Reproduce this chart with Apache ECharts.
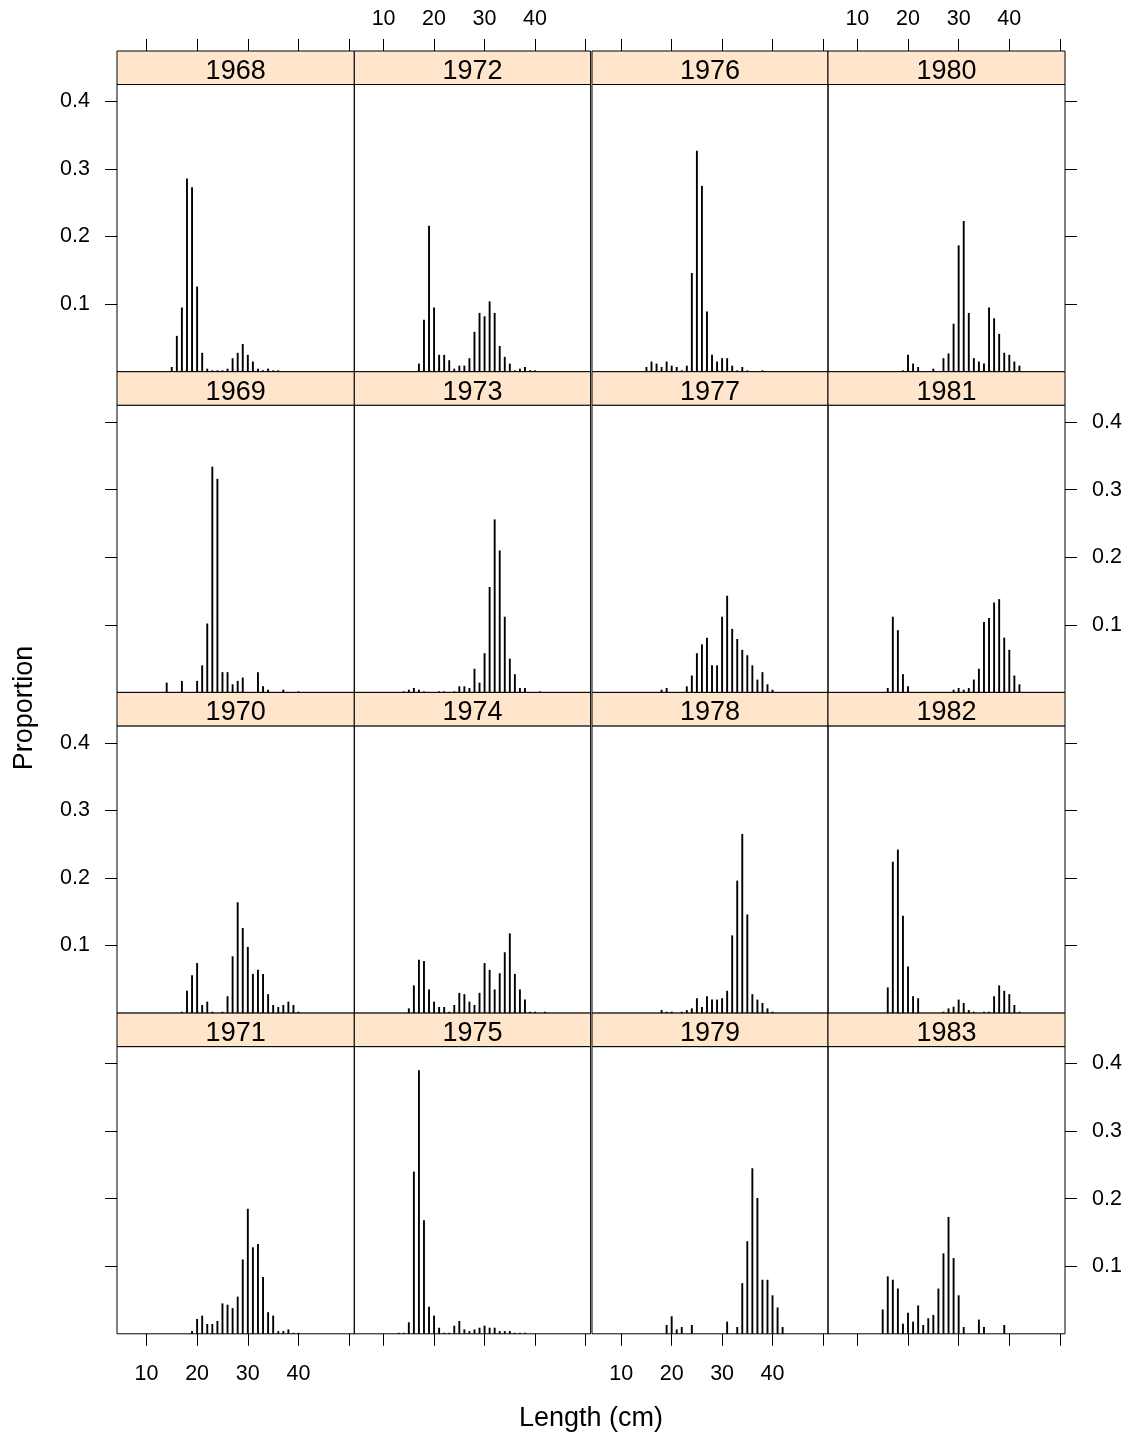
<!DOCTYPE html>
<html><head><meta charset="utf-8">
<script src="https://cdn.jsdelivr.net/npm/echarts@6/dist/echarts.min.js"></script>
<style>html,body{margin:0;padding:0;background:#fff}#c{width:1131px;height:1440px}</style>
</head><body><div id="c"></div>
<script>
// ---- data: [length (cm), proportion] per year ----
const years = [1968,1969,1970,1971,1972,1973,1974,1975,1976,1977,1978,1979,1980,1981,1982,1983];
const p1968 = [[15,.007],[16,.053],[17,.095],[18,.286],[19,.273],[20,.126],[21,.028],[22,.0045],[23,.002],[24,.002],[25,.002],[26,.0045],[27,.020],[28,.028],[29,.041],[30,.025],[31,.015],[32,.0045],[33,.002],[34,.0045],[35,.002],[36,.002]];
const p1969 = [[14,.0145],[17,.017],[20,.017],[21,.040],[22,.102],[23,.334],[24,.316],[25,.030],[26,.030],[27,.012],[28,.017],[29,.022],[32,.030],[33,.009],[34,.004],[37,.004],[40,.0015]];
const p1970 = [[17,.002],[18,.033],[19,.056],[20,.074],[21,.012],[22,.017],[23,.002],[25,.002],[26,.025],[27,.084],[28,.164],[29,.126],[30,.098],[31,.058],[32,.064],[33,.058],[34,.028],[35,.012],[36,.009],[37,.012],[38,.017],[39,.012],[40,.002]];
const p1971 = [[19,.004],[20,.022],[21,.027],[22,.0145],[23,.0145],[24,.019],[25,.045],[26,.043],[27,.038],[28,.055],[29,.110],[30,.185],[31,.128],[32,.133],[33,.084],[34,.032],[35,.027],[36,.004],[37,.004],[38,.0065],[39,.0015],[40,.0015]];
const p1972 = [[17,.012],[18,.077],[19,.216],[20,.095],[21,.025],[22,.025],[23,.017],[24,.0045],[25,.009],[26,.009],[27,.020],[28,.059],[29,.087],[30,.082],[31,.104],[32,.087],[33,.038],[34,.022],[35,.012],[36,.002],[37,.0045],[38,.007],[39,.002],[40,.002]];
const p1973 = [[14,.0015],[15,.004],[16,.0065],[17,.004],[18,.0015],[21,.0015],[22,.0015],[24,.0015],[25,.009],[26,.009],[27,.0065],[28,.035],[29,.0145],[30,.058],[31,.156],[32,.256],[33,.210],[34,.112],[35,.050],[36,.027],[37,.0065],[38,.0065],[41,.0015]];
const p1974 = [[15,.007],[16,.041],[17,.079],[18,.077],[19,.035],[20,.017],[21,.009],[22,.009],[23,.002],[24,.012],[25,.030],[26,.028],[27,.017],[28,.012],[29,.030],[30,.074],[31,.064],[32,.035],[33,.059],[34,.090],[35,.118],[36,.058],[37,.035],[38,.020],[39,.002],[40,.002],[42,.002]];
const p1975 = [[13,.0015],[14,.0015],[15,.017],[16,.240],[17,.390],[18,.168],[19,.040],[20,.027],[21,.009],[22,.0015],[23,.0015],[24,.012],[25,.019],[26,.0065],[27,.004],[28,.0065],[29,.009],[30,.012],[31,.009],[32,.009],[33,.004],[34,.004],[35,.004],[36,.0015],[37,.0015],[38,.0015]];
const p1976 = [[15,.007],[16,.015],[17,.012],[18,.007],[19,.015],[20,.009],[21,.007],[22,.002],[23,.009],[24,.146],[25,.327],[26,.275],[27,.089],[28,.025],[29,.015],[30,.020],[31,.020],[32,.009],[33,.002],[34,.007],[35,.002],[38,.002]];
const p1977 = [[18,.004],[19,.0065],[23,.009],[24,.025],[25,.058],[26,.071],[27,.081],[28,.040],[29,.040],[30,.112],[31,.143],[32,.094],[33,.079],[34,.063],[35,.055],[36,.040],[37,.019],[38,.030],[39,.012],[40,.004]];
const p1978 = [[18,.0045],[19,.002],[20,.002],[22,.002],[23,.0045],[24,.007],[25,.022],[26,.009],[27,.025],[28,.020],[29,.020],[30,.022],[31,.033],[32,.115],[33,.196],[34,.265],[35,.146],[36,.028],[37,.020],[38,.015],[39,.007],[40,.002]];
const p1979 = [[19,.013],[20,.026],[21,.0065],[22,.010],[24,.013],[31,.018],[33,.010],[34,.075],[35,.137],[36,.245],[37,.201],[38,.080],[39,.080],[40,.057],[41,.039],[42,.010]];
const p1980 = [[19,.002],[20,.025],[21,.012],[22,.007],[25,.0045],[27,.020],[28,.027],[29,.071],[30,.187],[31,.223],[32,.087],[33,.020],[34,.015],[35,.012],[36,.095],[37,.079],[38,.056],[39,.028],[40,.025],[41,.015],[42,.009]];
const p1981 = [[16,.0065],[17,.112],[18,.092],[19,.027],[20,.009],[29,.004],[30,.0065],[31,.004],[32,.0065],[33,.019],[34,.035],[35,.104],[36,.110],[37,.133],[38,.138],[39,.081],[40,.063],[41,.025],[42,.012]];
const p1982 = [[16,.038],[17,.224],[18,.242],[19,.144],[20,.069],[21,.025],[22,.022],[27,.002],[28,.007],[29,.0095],[30,.020],[31,.015],[32,.0045],[33,.002],[35,.002],[36,.002],[37,.025],[38,.041],[39,.033],[40,.028],[41,.012],[42,.002]];
const p1983 = [[15,.036],[16,.085],[17,.080],[18,.067],[19,.015],[20,.031],[21,.018],[22,.042],[23,.013],[24,.023],[25,.028],[26,.067],[27,.119],[28,.173],[29,.112],[30,.057],[31,.010],[34,.021],[35,.010],[39,.013]];
const panelData = [p1968,p1969,p1970,p1971,p1972,p1973,p1974,p1975,p1976,p1977,p1978,p1979,p1980,p1981,p1982,p1983];

const xTicks = [10,20,30,40,50];
const xTickLabels = [10,20,30,40];
const yTicks = [0.1,0.2,0.3,0.4];

// ---- layout ----
const FONT = '"Liberation Sans", Arial, Helvetica, sans-serif';
const colLeft = [117, 354.3, 592, 828];
const colW = [237.3, 236.3, 236, 237];
const rowTop0 = 51, rowPitch = 320.7, stripH = 33.5, panelH = 287.2;
const xMin = 4.2, xMax = 51.0, yMin = 0, yMax = 0.425;
const TICK_FS = 21.5;

const grids = [], xAxes = [], yAxes = [], series = [], graphics = [];
for (let c = 0; c < 4; c++) {
  for (let r = 0; r < 4; r++) {
    const i = c * 4 + r;
    const stripTop = rowTop0 + r * rowPitch;
    const top = stripTop + stripH;
    grids.push({left: colLeft[c], top: top, width: colW[c], height: panelH,
      show: true, borderColor: '#000', borderWidth: 1, backgroundColor: 'transparent',
      containLabel: false, outerBoundsMode: 'none'});
    const bottomRow = r === 3;
    xAxes.push({type: 'value', gridIndex: i, min: xMin, max: xMax, position: 'bottom',
      axisLine: {show: false}, splitLine: {show: false},
      axisTick: {show: bottomRow, length: 12, customValues: xTicks, lineStyle: {color: '#000', width: 1}},
      axisLabel: {show: bottomRow && (c === 0 || c === 2), customValues: xTickLabels, margin: 29,
        fontSize: TICK_FS, color: '#000', fontFamily: FONT}});
    const yTickShow = c === 0 || c === 3;
    const yLabShow = (c === 0 && r % 2 === 0) || (c === 3 && r % 2 === 1);
    yAxes.push({type: 'value', gridIndex: i, min: yMin, max: yMax, position: c === 3 ? 'right' : 'left',
      axisLine: {show: false}, splitLine: {show: false},
      axisTick: {show: yTickShow, length: 12, customValues: yTicks, lineStyle: {color: '#000', width: 1}},
      axisLabel: {show: yLabShow, customValues: yTicks, margin: 27, fontSize: TICK_FS, color: '#000', fontFamily: FONT,
        formatter: v => v.toFixed(1)}});
    series.push({type: 'bar', xAxisIndex: i, yAxisIndex: i, data: panelData[i], barWidth: 1.9,
      itemStyle: {color: '#000'}, silent: true, animation: false});
    graphics.push({type: 'rect', shape: {x: colLeft[c], y: stripTop, width: colW[c], height: stripH},
      style: {fill: '#FFE5CC', stroke: '#000', lineWidth: 1}, silent: true});
    graphics.push({type: 'text', x: colLeft[c] + colW[c] / 2, y: stripTop + 20.5,
      style: {text: String(years[i]), font: '27px ' + FONT, fill: '#000', align: 'center', verticalAlign: 'middle'}, silent: true});
  }
}
// top axes (on the first row), ticks above the strips
for (let c = 0; c < 4; c++) {
  xAxes.push({type: 'value', gridIndex: c * 4, min: xMin, max: xMax, position: 'top', offset: stripH,
    axisLine: {show: false}, splitLine: {show: false},
    axisTick: {show: true, length: 12, customValues: xTicks, lineStyle: {color: '#000', width: 1}},
    axisLabel: {show: c === 1 || c === 3, customValues: xTickLabels, margin: 21, fontSize: TICK_FS, color: '#000', fontFamily: FONT}});
}
graphics.push({type: 'text', x: 25, y: 708, rotation: Math.PI / 2,
  style: {text: 'Proportion', font: '27px ' + FONT, fill: '#000', align: 'center', verticalAlign: 'middle'}, silent: true});
graphics.push({type: 'text', x: 591, y: 1419,
  style: {text: 'Length (cm)', font: '27px ' + FONT, fill: '#000', align: 'center', verticalAlign: 'middle'}, silent: true});

const chart = echarts.init(document.getElementById('c'), null, {renderer: 'canvas'});
chart.setOption({animation: false, backgroundColor: '#fff', grid: grids, xAxis: xAxes, yAxis: yAxes, series: series, graphic: graphics});
</script></body></html>
